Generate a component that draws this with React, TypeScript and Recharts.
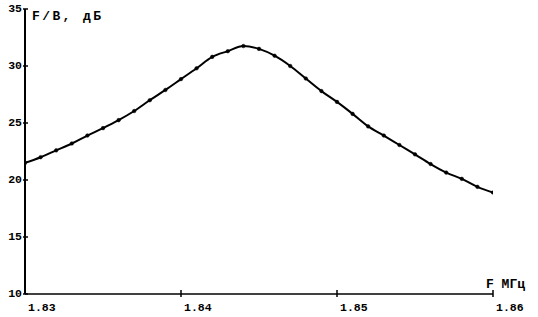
import { Line, LineChart, XAxis, YAxis } from 'recharts'

// Частота, МГц
const FREQ = [
  1.83, 1.831, 1.832, 1.833, 1.834, 1.835, 1.836, 1.837, 1.838, 1.839, 1.84,
  1.841, 1.842, 1.843, 1.844, 1.845, 1.846, 1.847, 1.848, 1.849, 1.85,
  1.851, 1.852, 1.853, 1.854, 1.855, 1.856, 1.857, 1.858, 1.859, 1.86,
]
// F/B, дБ
const FB = [
  21.5, 22.0, 22.6, 23.2, 23.9, 24.55, 25.25, 26.05, 27.0, 27.9, 28.85,
  29.8, 30.8, 31.3, 31.75, 31.5, 30.9, 30.0, 28.9, 27.8, 26.85,
  25.8, 24.7, 23.9, 23.07, 22.25, 21.4, 20.65, 20.1, 19.4, 18.9,
]
const X_TICKS = [1.83, 1.84, 1.85, 1.86]
const Y_TICKS = [10, 15, 20, 25, 30, 35]

const data = FREQ.map((f, i) => ({ f, fb: FB[i] }))

const FONT = '"Liberation Mono", "DejaVu Sans Mono", monospace'

function XTick(props: any) {
  const { x, y, payload } = props
  return (
    <g>
      {payload.value !== 1.83 && (
        <line x1={x} x2={x} y1={y - 4} y2={y + 3} stroke="#000" strokeWidth={1.5} />
      )}
      <text x={x + 3} y={y + 17} fontFamily={FONT} fontWeight="bold" fontSize={11.5} fill="#000">
        {payload.value.toFixed(2)}
      </text>
    </g>
  )
}

function YTick(props: any) {
  const { x, y, payload } = props
  return (
    <g>
      <line x1={x - 2} x2={x + 3} y1={y} y2={y} stroke="#000" strokeWidth={1.5} />
      <text
        x={x - 3}
        y={y + 3}
        textAnchor="end"
        fontFamily={FONT}
        fontWeight="bold"
        fontSize={11.5}
        fill="#000"
      >
        {payload.value}
      </text>
    </g>
  )
}

export default function App() {
  return (
    <div style={{ position: 'absolute', left: 0, top: 0, background: '#fff' }}>
      <LineChart width={538} height={317} data={data} margin={{ top: 9, right: 45, bottom: 0, left: 0 }}>
        <XAxis
          dataKey="f"
          type="number"
          domain={[1.83, 1.86]}
          ticks={X_TICKS}
          allowDataOverflow
          height={23}
          tickSize={0}
          tickMargin={0}
          tick={<XTick />}
          axisLine={{ stroke: '#000', strokeWidth: 1.5 }}
          tickLine={false}
        />
        <YAxis
          type="number"
          domain={[10, 35]}
          ticks={Y_TICKS}
          allowDataOverflow
          width={25}
          tickSize={0}
          tickMargin={0}
          tick={<YTick />}
          axisLine={{ stroke: '#000', strokeWidth: 2 }}
          tickLine={false}
        />
        <Line
          dataKey="fb"
          type="monotone"
          stroke="#000"
          strokeWidth={2}
          dot={{ r: 1.8, fill: '#000', stroke: '#000', strokeWidth: 0.5 }}
          isAnimationActive={false}
        />
        <text x={32} y={20} fontFamily={FONT} fontWeight="bold" fontSize={13} letterSpacing={2.4} fill="#000">
          F/B, дБ
        </text>
        <text x={486} y={288} fontFamily={FONT} fontWeight="bold" fontSize={13} fill="#000">
          F  МГц
        </text>
      </LineChart>
    </div>
  )
}
